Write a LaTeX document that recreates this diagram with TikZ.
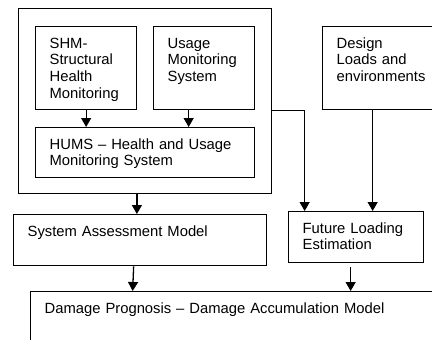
\documentclass[tikz,border=0pt]{standalone}
\usepackage{fontspec}
\setmainfont{Liberation Sans}
\usetikzlibrary{arrows.meta}

\begin{document}
\begin{tikzpicture}[x=1pt, y=-1pt, line width=1.3pt, >={Triangle[length=9pt,width=10pt]},
	main/.style={draw, anchor=north west, align=left, inner xsep=14pt, inner ysep=0pt,
		text height=21.5pt, font=\fontsize{14.8}{16.7}\selectfont}]
	\useasboundingbox (0,0) rectangle (432,340);
	\clip (0,0) rectangle (432,340);

	% monitoring block
	\node[draw, anchor=north west, inner sep=0pt, minimum width=253.5pt, minimum height=185pt] (sys) at (17.5,8) {};
	\node[main, text width=73pt, text depth=61.5pt] (shm) at (35,26) {SHM-\\Structural\\Health\\Monitoring};
	\node[main, text width=73pt, text depth=61.5pt] (usage) at (153,26) {Usage\\Monitoring\\System};
	\node[main, text width=191pt, text depth=28.5pt] (hums) at (35,127) {HUMS – Health and Usage\\Monitoring System};
	\node[main, text width=95pt, text depth=61.5pt] (design) at (322,26) {Design\\Loads and\\environments};

	% models
	\node[main, text width=225pt, text depth=29.5pt] (sam) at (13,214) {System Assessment Model};
	\node[main, text width=107pt, text depth=29.5pt] (fle) at (288,211) {Future Loading\\Estimation};
	\node[main, text width=392pt, text depth=40pt] (dmg) at (30,291) {Damage Prognosis – Damage Accumulation Model};

	\draw[->] (shm.south) -- (shm.south |- hums.north);
	\draw[->] ([xshift=-15.5pt]usage.south) -- ([xshift=-15.5pt]usage.south |- hums.north);
	\draw[->] ([xshift=-8pt]sys.south) -- ([xshift=-8pt]sys.south |- sam.north);
	\draw[->] (sys.east |- usage.south) -| ([xshift=-51.5pt]fle.north);
	\draw[->] ([xshift=-11.5pt]design.south) -- ([xshift=-11.5pt]design.south |- fle.north);
	\draw[->] ([xshift=-6.5pt]sam.south) -- ([xshift=-7.5pt]sam.south |- dmg.north);
	\draw[->] ([xshift=-5.5pt,yshift=-4pt]fle.south) -- ([xshift=-5.5pt]fle.south |- dmg.north);
\end{tikzpicture}
\end{document}
